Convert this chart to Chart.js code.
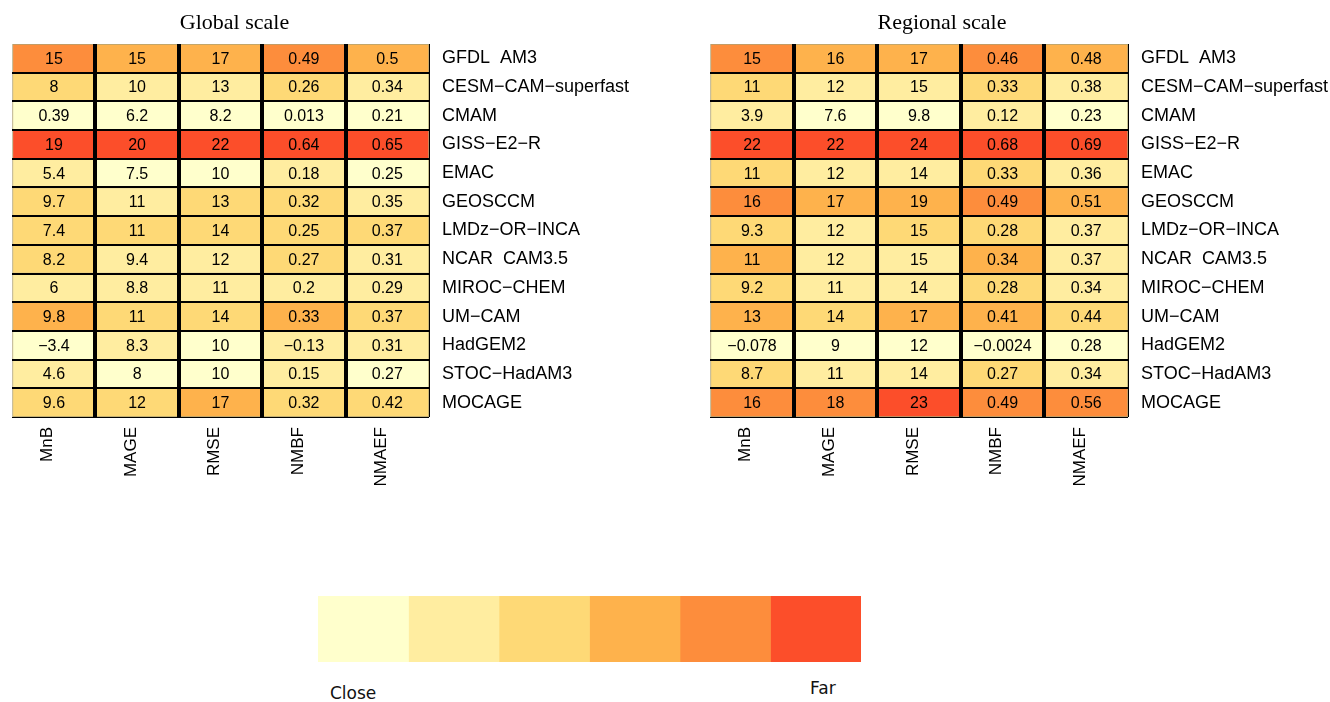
<!DOCTYPE html>
<html>
<head>
<meta charset="utf-8">
<script src="https://cdn.jsdelivr.net/npm/chart.js@4.4.1/dist/chart.umd.min.js"></script>
<style>
  body { margin: 0; background: #fff; width: 1330px; height: 702px; position: relative; overflow: hidden; }
  canvas { position: absolute; }
  .lab { position: absolute; font: 17px "DejaVu Sans", sans-serif; color: #111; line-height: 20px; }
</style>
</head>
<body>
<canvas id="globalChart" width="633" height="510" style="left:0;top:0"></canvas>
<canvas id="regionalChart" width="632" height="510" style="left:698px;top:0"></canvas>
<canvas id="keyChart" width="543" height="66" style="left:318px;top:596px"></canvas>
<div class="lab" style="left:330px;top:683px">Close</div>
<div class="lab" style="left:810px;top:678px">Far</div>

<script>
var models = ['GFDL  AM3', 'CESM\u2212CAM\u2212superfast', 'CMAM', 'GISS\u2212E2\u2212R', 'EMAC', 'GEOSCCM',
    'LMDz\u2212OR\u2212INCA', 'NCAR  CAM3.5', 'MIROC\u2212CHEM', 'UM\u2212CAM', 'HadGEM2', 'STOC\u2212HadAM3', 'MOCAGE'];
var metrics = ['MnB', 'MAGE', 'RMSE', 'NMBF', 'NMAEF'];

// one row per model, columns follow metrics
var globalValues = [
    [15, 15, 17, 0.49, 0.5],
    [8, 10, 13, 0.26, 0.34],
    [0.39, 6.2, 8.2, 0.013, 0.21],
    [19, 20, 22, 0.64, 0.65],
    [5.4, 7.5, 10, 0.18, 0.25],
    [9.7, 11, 13, 0.32, 0.35],
    [7.4, 11, 14, 0.25, 0.37],
    [8.2, 9.4, 12, 0.27, 0.31],
    [6, 8.8, 11, 0.2, 0.29],
    [9.8, 11, 14, 0.33, 0.37],
    [-3.4, 8.3, 10, -0.13, 0.31],
    [4.6, 8, 10, 0.15, 0.27],
    [9.6, 12, 17, 0.32, 0.42]
];
var regionalValues = [
    [15, 16, 17, 0.46, 0.48],
    [11, 12, 15, 0.33, 0.38],
    [3.9, 7.6, 9.8, 0.12, 0.23],
    [22, 22, 24, 0.68, 0.69],
    [11, 12, 14, 0.33, 0.36],
    [16, 17, 19, 0.49, 0.51],
    [9.3, 12, 15, 0.28, 0.37],
    [11, 12, 15, 0.34, 0.37],
    [9.2, 11, 14, 0.28, 0.34],
    [13, 14, 17, 0.41, 0.44],
    [-0.078, 9, 12, -0.0024, 0.28],
    [8.7, 11, 14, 0.27, 0.34],
    [16, 18, 23, 0.49, 0.56]
];

// colour class (0 = close ... 5 = far) of each cell
var globalLevels = [
    [4, 3, 3, 4, 3],
    [2, 1, 1, 2, 1],
    [0, 0, 0, 0, 0],
    [5, 5, 5, 5, 5],
    [1, 0, 0, 1, 0],
    [2, 1, 2, 2, 1],
    [2, 2, 2, 2, 2],
    [2, 1, 1, 2, 1],
    [1, 1, 1, 1, 1],
    [3, 2, 2, 3, 2],
    [0, 1, 0, 1, 1],
    [1, 0, 0, 1, 0],
    [2, 2, 3, 2, 2]
];
var regionalLevels = [
    [4, 3, 3, 4, 3],
    [2, 1, 1, 2, 1],
    [1, 0, 0, 1, 0],
    [5, 5, 5, 5, 5],
    [2, 1, 1, 2, 1],
    [4, 3, 3, 4, 3],
    [2, 1, 2, 2, 1],
    [3, 1, 1, 3, 1],
    [2, 1, 1, 2, 1],
    [3, 2, 3, 3, 2],
    [0, 0, 0, 0, 0],
    [2, 1, 1, 2, 1],
    [4, 4, 5, 4, 4]
];

var palette = ['#FFFFCC', '#FFEDA0', '#FED976', '#FEB24C', '#FD8D3C', '#FC4E2A'];

var sans = '"Liberation Sans", Arial, sans-serif';
var serif = '"Liberation Serif", "Times New Roman", serif';

function fmt(v) {
    return String(v).replace('-', '\u2212');
}

// numbers inside the cells
var cellText = {
    id: 'cellText',
    afterDatasetsDraw: function(chart, args, opts) {
        var ctx = chart.ctx;
        ctx.save();
        ctx.font = '16px ' + sans;
        ctx.fillStyle = '#000';
        ctx.textAlign = 'center';
        ctx.textBaseline = 'middle';
        chart.data.datasets.forEach(function(ds, j) {
            chart.getDatasetMeta(j).data.forEach(function(bar, i) {
                var p = bar.getCenterPoint();
                ctx.fillText(fmt(opts.values[i][j]), p.x, p.y + 1);
            });
        });
        ctx.restore();
    }
};

var panelTitle = {
    id: 'panelTitle',
    afterDraw: function(chart, args, opts) {
        var a = chart.chartArea;
        var ctx = chart.ctx;
        ctx.save();
        ctx.font = '22px ' + serif;
        ctx.fillStyle = '#000';
        ctx.textAlign = 'center';
        ctx.textBaseline = 'alphabetic';
        ctx.fillText(opts.text, (a.left + a.right) / 2 + opts.dx, 29);
        ctx.restore();
    }
};

function makeHeatmap(id, values, levels, title, dx, labelWidth) {
    var datasets = metrics.map(function(m, j) {
        return {
            label: m,
            data: models.map(function() { return 1; }),
            backgroundColor: levels.map(function(row) { return palette[row[j]]; }),
            borderColor: 'rgba(110, 85, 0, 0.55)',
            borderWidth: 1,
            borderSkipped: false,
            barPercentage: 1,
            categoryPercentage: 1
        };
    });

    return new Chart(document.getElementById(id), {
        type: 'bar',
        data: { labels: models, datasets: datasets },
        plugins: [cellText, panelTitle],
        options: {
            indexAxis: 'y',
            responsive: false,
            animation: false,
            layout: { padding: { left: 12, top: 44, right: 0, bottom: 0 } },
            plugins: {
                legend: { display: false },
                tooltip: { enabled: false },
                cellText: { values: values },
                panelTitle: { text: title, dx: dx }
            },
            scales: {
                x: {
                    type: 'linear',
                    stacked: true,
                    min: 0,
                    max: metrics.length,
                    border: { display: false },
                    grid: {
                        z: 1,
                        drawTicks: false,
                        color: function(c) {
                            var v = c.tick ? c.tick.value : 0;
                            if (Number.isInteger(v) && v > 0) return '#000';
                            return 'rgba(0,0,0,0)';
                        },
                        lineWidth: function(c) {
                            var v = c.tick ? c.tick.value : 0;
                            return (Number.isInteger(v) && v > 0 && v < metrics.length) ? 4 : 1;
                        }
                    },
                    ticks: {
                        stepSize: 0.5,
                        autoSkip: false,
                        minRotation: 90,
                        maxRotation: 90,
                        padding: 10,
                        labelOffset: -6,
                        color: '#000',
                        font: { family: sans, size: 17 },
                        callback: function(v) {
                            return Number.isInteger(v) ? '' : metrics[Math.floor(v)];
                        }
                    },
                    afterFit: function(s) { s.height = 93; }
                },
                y: {
                    stacked: true,
                    position: 'right',
                    border: { display: false },
                    grid: {
                        z: 1,
                        offset: true,
                        drawTicks: false,
                        color: function(c) { return c.index === 0 ? 'rgba(0,0,0,0)' : '#000'; },
                        lineWidth: function(c) { return c.index === undefined ? 1 : 2; }
                    },
                    ticks: {
                        padding: 13,
                        color: '#000',
                        font: { family: sans, size: 18 }
                    },
                    afterFit: function(s) { s.width = labelWidth; }
                }
            }
        }
    });
}

makeHeatmap('globalChart', globalValues, globalLevels, 'Global scale', 14, 204);
makeHeatmap('regionalChart', regionalValues, regionalLevels, 'Regional scale', 23, 202);

// colour key
new Chart(document.getElementById('keyChart'), {
    type: 'bar',
    data: {
        labels: [''],
        datasets: palette.map(function(c) {
            return { data: [1], backgroundColor: c, borderWidth: 0, barPercentage: 1, categoryPercentage: 1 };
        })
    },
    options: {
        indexAxis: 'y',
        responsive: false,
        animation: false,
        layout: { padding: 0 },
        plugins: { legend: { display: false }, tooltip: { enabled: false } },
        scales: {
            x: { stacked: true, min: 0, max: palette.length, display: false },
            y: { stacked: true, display: false }
        }
    }
});
</script>
</body>
</html>
